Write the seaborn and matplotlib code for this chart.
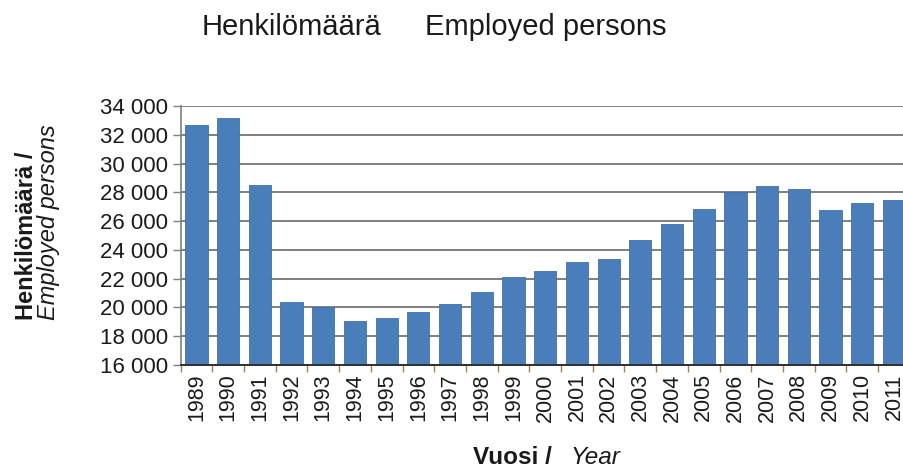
import matplotlib
matplotlib.use("Agg")
import matplotlib.pyplot as plt
import seaborn as sns
import pandas as pd
from matplotlib.ticker import FuncFormatter, FixedLocator, MultipleLocator

# data
years = [str(y) for y in range(1989, 2012)]
employed = [32700, 33200, 28500, 20400, 20050, 19080, 19250, 19700, 20240,
            21050, 22090, 22550, 23180, 23350, 24690, 25780, 26840, 28040,
            28440, 28230, 26750, 27280, 27460]

title_fi = "Henkilömäärä"
title_en = "Employed persons"

df = pd.DataFrame({"year": years, "employed": employed})

sns.set_style("white")
plt.rcParams["font.family"] = ["Liberation Sans", "DejaVu Sans"]

fig = plt.figure(figsize=(9.04, 4.68), dpi=100)
ax = fig.add_axes([0.1998, 0.220, 0.8066, 0.5535])

ax.yaxis.grid(True, color="#7f7f7f", linewidth=1.4)
ax.set_axisbelow(True)

sns.barplot(data=df, x="year", y="employed", color="#4a7ebb", saturation=1,
            width=0.7, edgecolor="#3f70ab", linewidth=0.6, ax=ax)

ax.set_ylim(16000, 34000)
ax.yaxis.set_major_locator(MultipleLocator(2000))
ax.yaxis.set_major_formatter(FuncFormatter(lambda v, p: f"{int(v):,}".replace(",", " ")))
ax.set_xlim(-0.5, len(years) - 0.5)

# tick marks between categories, labels under bars
ax.xaxis.set_minor_locator(FixedLocator([i - 0.5 for i in range(len(years) + 1)]))
ax.tick_params(axis="x", which="major", length=0, pad=6, labelsize=15.5,
               rotation=90, labelcolor="#1a1a1a")
ax.tick_params(axis="x", which="minor", length=5, width=1, color="#a08060",
               direction="out", bottom=True)
ax.tick_params(axis="y", which="major", length=6, width=1, color="#7f7f7f",
               direction="out", left=True, labelsize=16, pad=3,
               labelcolor="#1a1a1a")

for s in ["top", "right"]:
    ax.spines[s].set_visible(False)
ax.spines["left"].set_color("#7f7f7f")
ax.spines["left"].set_linewidth(1.2)
ax.spines["bottom"].set_color("#303030")
ax.spines["bottom"].set_linewidth(1.4)

ax.set_xlabel("")
ax.set_ylabel("")

# y axis title, two lines aligned at the bottom
fig.text(0.029, 0.316, "Henkilömäärä /", rotation=90, fontsize=17,
         fontweight="bold", ha="center", va="bottom", color="#1a1a1a")
fig.text(0.054, 0.316, "Employed persons", rotation=90, fontsize=17,
         fontstyle="italic", ha="center", va="bottom", color="#1a1a1a")

# x axis title
fig.text(473 / 904, 0.008, "Vuosi /", fontsize=17.5, fontweight="bold",
         ha="left", va="baseline", color="#1a1a1a")
fig.text(570 / 904, 0.008, "Year", fontsize=17.5, fontstyle="italic",
         ha="left", va="baseline", color="#1a1a1a")

# chart title
fig.text(202 / 904, 0.925, title_fi, fontsize=21, ha="left", va="baseline",
         color="#1a1a1a")
fig.text(425 / 904, 0.925, title_en, fontsize=21, ha="left", va="baseline",
         color="#1a1a1a")

plt.savefig("out.png", dpi=100)
plt.close()
